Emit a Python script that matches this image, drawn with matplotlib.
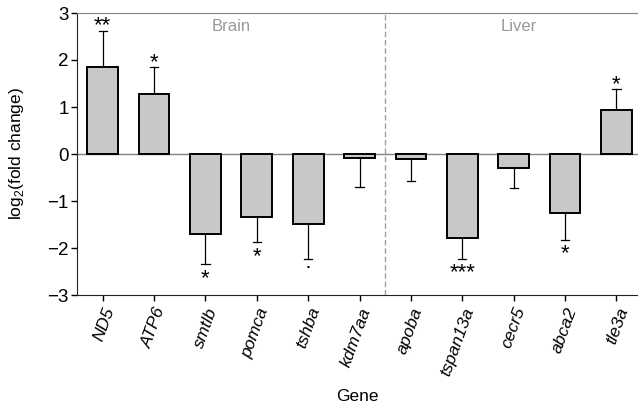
import matplotlib
matplotlib.use("Agg")
import matplotlib.pyplot as plt
import numpy as np

plt.rcParams['font.family'] = ['Liberation Sans', 'DejaVu Sans']
plt.rcParams['mathtext.fontset'] = 'custom'
plt.rcParams['mathtext.rm'] = 'Liberation Sans'

genes = ["ND5", "ATP6", "smtlb", "pomca", "tshba", "kdm7aa",
         "apoba", "tspan13a", "cecr5", "abca2", "tle3a"]
values = [1.86, 1.28, -1.71, -1.34, -1.49, -0.085,
          -0.11, -1.79, -0.30, -1.25, 0.93]
errors = [0.76, 0.57, 0.64, 0.54, 0.74, 0.62,
          0.46, 0.44, 0.42, 0.57, 0.45]
signif = ["**", "*", "*", "*", "\u00b7", "", "", "***", "", "*", "*"]
tissues = ["Brain", "Liver"]

fig = plt.figure(figsize=(6.38, 4.07), dpi=100)
ax = fig.add_axes([77/638, 1-295/407, 1-77/638, (295-13)/407])

x = np.arange(len(genes))
ax.bar(x, values, width=0.6, color="#c8c8c8", edgecolor="black", linewidth=1.4, zorder=2)

for xi, v, e, s in zip(x, values, errors, signif):
    sign = 1 if v >= 0 else -1
    end = v + sign * e
    ax.plot([xi, xi], [v, end], color="black", lw=0.9, zorder=1)
    ax.plot([xi - 0.08, xi + 0.08], [end, end], color="black", lw=0.9, zorder=1)
    if s:
        if s == "\u00b7":
            ax.text(xi, end - 0.1, "\u25aa", ha="center", va="top", fontsize=6)
        elif sign > 0:
            ax.text(xi, end - 0.12, s, ha="center", va="bottom", fontsize=16)
        else:
            ax.text(xi, end - 0.08, s, ha="center", va="top", fontsize=16)

ax.axhline(0, color="#808080", lw=1.0, zorder=1.5)
ax.axvline(5.5, color="#a0a0a0", lw=1.0, ls=(0, (4, 2)), zorder=0)

ax.text(2.5, 2.72, tissues[0], ha="center", va="center", fontsize=12, color="#999999")
ax.text(8.1, 2.72, tissues[1], ha="center", va="center", fontsize=12, color="#999999")

ax.set_xlim(-0.5, 10.42)
ax.set_ylim(-3, 3)
ax.set_yticks([-3, -2, -1, 0, 1, 2, 3])
ax.set_yticklabels(["\u22123", "\u22122", "\u22121", "0", "1", "2", "3"])
ax.set_xticks(x)
ax.set_xticklabels(genes, rotation=70, ha="right", rotation_mode="anchor",
                   fontstyle="italic", fontsize=12.5)
ax.tick_params(axis="y", labelsize=13.5, direction="out", length=4, width=1, pad=2)
ax.tick_params(axis="x", direction="out", length=4, width=1)

ax.spines["right"].set_visible(False)
ax.spines["top"].set_color("#808080")
ax.spines["left"].set_color("#222222")
ax.spines["bottom"].set_color("#222222")

ax.set_ylabel("log$_2$(fold change)", fontsize=12.5)
ax.yaxis.set_label_coords(-0.091, 0.5)
ax.set_xlabel("Gene", fontsize=12.5)
ax.xaxis.set_label_coords(0.5, -0.335)

fig.savefig("out.png", dpi=100)
